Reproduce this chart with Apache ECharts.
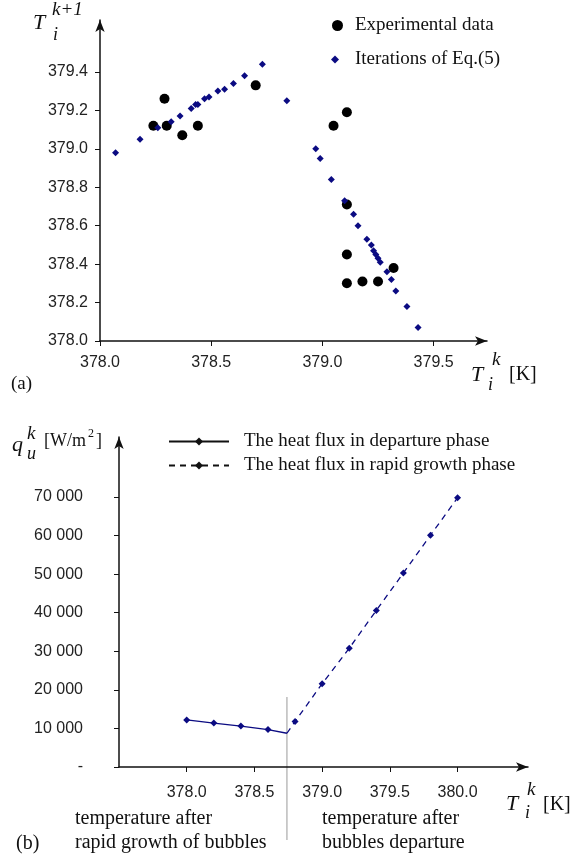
<!DOCTYPE html>
<html>
<head>
<meta charset="utf-8">
<script src="https://cdn.jsdelivr.net/npm/echarts@6/dist/echarts.min.js"></script>
<style>
  html, body { margin: 0; padding: 0; background: #fff; }
  #chart { width: 572px; height: 856px; }
</style>
</head>
<body>
<div id="chart"></div>
<script>
// (a) experimental data points
const expX = [378.24, 378.29, 378.30, 378.37, 378.44, 378.70, 379.05, 379.11, 379.11, 379.11, 379.11, 379.18, 379.25, 379.32]
const expY = [379.12, 379.26, 379.12, 379.07, 379.12, 379.33, 379.12, 379.19, 378.71, 378.45, 378.30, 378.31, 378.31, 378.38]

// (a) iterations of Eq.(5)
const iterX = [378.07, 378.18, 378.26, 378.32, 378.36, 378.41, 378.43, 378.44, 378.47, 378.49, 378.53, 378.56, 378.60, 378.65, 378.73, 378.84,
  378.97, 378.99, 379.04, 379.10, 379.14, 379.16, 379.20, 379.22, 379.23, 379.24, 379.25, 379.26, 379.29, 379.31, 379.33, 379.38, 379.43]
const iterY = [378.98, 379.05, 379.11, 379.14, 379.17, 379.21, 379.23, 379.23, 379.26, 379.27, 379.30, 379.31, 379.34, 379.38, 379.44, 379.25,
  379.00, 378.95, 378.84, 378.73, 378.66, 378.60, 378.53, 378.50, 378.47, 378.45, 378.43, 378.41, 378.36, 378.32, 378.26, 378.18, 378.07]

// (b) heat flux
const depX = [378.0, 378.2, 378.4, 378.6, 378.74]
const depY = [12200, 11400, 10600, 9700, 8750]
const growX = [378.74, 378.8, 379.0, 379.2, 379.4, 379.6, 379.8, 380.0]
const growY = [8750, 11800, 21600, 30800, 40600, 50300, 60100, 69800]
const splitT = 378.74

// tick labels
const aTicksX = [378.0, 378.5, 379.0, 379.5]
const aTicksY = [378.0, 378.2, 378.4, 378.6, 378.8, 379.0, 379.2, 379.4]
const bTicksX = [378.0, 378.5, 379.0, 379.5, 380.0]
const bTicksY = [0, 10000, 20000, 30000, 40000, 50000, 60000, 70000]

const navy = "#0b0b82"
const serif = "Liberation Serif"
const sans = "Liberation Sans"

const zip = (xs, ys) => xs.map((x, i) => [x, ys[i]])

const axisLine = {
  show: true,
  symbol: ["none", "arrow"],
  symbolSize: [7, 12],
  lineStyle: { color: "#111", width: 1.5 },
}
const lbl = { fontFamily: sans, fontSize: 16, color: "#222" }

function thousands(v) {
  if (v === 0) return "-"
  return String(v).replace(/\B(?=(\d{3})+(?!\d))/g, " ")
}

const chart = echarts.init(document.getElementById("chart"))

const option = {
  animation: false,
  backgroundColor: "#fff",
  grid: [
    { left: 100, top: 20, width: 387, height: 321 },
    { left: 119, top: 437, width: 409, height: 330 },
  ],
  xAxis: [
    {
      gridIndex: 0, type: "value", min: 378.0, max: 379.74,
      axisLine: axisLine,
      splitLine: { show: false },
      axisTick: { customValues: aTicksX, length: 5, lineStyle: { color: "#111" } },
      axisLabel: { customValues: aTicksX, margin: 14, formatter: (v) => v.toFixed(1), ...lbl },
    },
    {
      gridIndex: 1, type: "value", min: 377.5, max: 380.52,
      axisLine: axisLine,
      splitLine: { show: false },
      axisTick: { customValues: bTicksX, length: 5, lineStyle: { color: "#111" } },
      axisLabel: { customValues: bTicksX, margin: 18, formatter: (v) => v.toFixed(1), ...lbl },
    },
  ],
  yAxis: [
    {
      gridIndex: 0, type: "value", min: 378.0, max: 379.67,
      axisLine: axisLine,
      splitLine: { show: false },
      axisTick: { customValues: aTicksY, length: 5, lineStyle: { color: "#111" } },
      axisLabel: { customValues: aTicksY, margin: 12, formatter: (v) => v.toFixed(1), ...lbl },
    },
    {
      gridIndex: 1, type: "value", min: 0, max: 85560,
      axisLine: axisLine,
      splitLine: { show: false },
      axisTick: { customValues: bTicksY, length: 5, lineStyle: { color: "#111" } },
      axisLabel: { customValues: bTicksY, margin: 36, formatter: thousands, ...lbl },
    },
  ],
  legend: [
    {
      data: [{ name: "Experimental data", icon: "circle" }],
      left: 327, top: 11, itemWidth: 11, itemHeight: 11,
      textStyle: { fontFamily: serif, fontSize: 19, color: "#111", padding: [0, 0, 0, 7] },
    },
    {
      data: [{ name: "Iterations of Eq.(5)", icon: "diamond" }],
      left: 326, top: 45, itemWidth: 8, itemHeight: 8,
      textStyle: { fontFamily: serif, fontSize: 19, color: "#111", padding: [0, 0, 0, 11] },
    },
    {
      data: ["The heat flux in departure phase", "The heat flux in rapid growth phase"],
      orient: "vertical", left: 163, top: 427, itemWidth: 60, itemHeight: 10, itemGap: 5,
      itemStyle: { color: "#111" },
      lineStyle: { color: "#111" },
      textStyle: { fontFamily: serif, fontSize: 19, color: "#111", padding: [0, 0, 0, 10] },
    },
  ],
  series: [
    {
      name: "Experimental data", type: "scatter", xAxisIndex: 0, yAxisIndex: 0,
      symbol: "circle", symbolSize: 10, itemStyle: { color: "#000", opacity: 1 },
      data: zip(expX, expY),
    },
    {
      name: "Iterations of Eq.(5)", type: "scatter", xAxisIndex: 0, yAxisIndex: 0,
      symbol: "diamond", symbolSize: 7, itemStyle: { color: navy, opacity: 1 },
      data: zip(iterX, iterY),
    },
    {
      name: "The heat flux in departure phase", type: "line", xAxisIndex: 1, yAxisIndex: 1,
      symbol: "diamond", symbolSize: 7, showAllSymbol: true,
      itemStyle: { color: navy }, lineStyle: { color: navy, width: 1.3 },
      data: zip(depX, depY).map((p, i) => (i === depX.length - 1 ? { value: p, symbol: "none" } : p)),
    },
    {
      name: "The heat flux in rapid growth phase", type: "line", xAxisIndex: 1, yAxisIndex: 1,
      symbol: "diamond", symbolSize: 7, showAllSymbol: true,
      itemStyle: { color: navy }, lineStyle: { color: navy, width: 1.3, type: [6, 5] },
      data: zip(growX, growY).map((p, i) => (i === 0 ? { value: p, symbol: "none" } : p)),
    },
  ],
}

chart.setOption(option)

// axis titles and annotations
const t = (x, y, text, size, italic) => ({
  type: "text", x: x, y: y,
  style: { text: text, fontFamily: serif, fontSize: size, fontStyle: italic ? "italic" : "normal", fill: "#111" },
})

const splitPx = chart.convertToPixel({ xAxisIndex: 1 }, splitT)

chart.setOption({
  graphic: [
    // (a) y title T_i^{k+1}
    t(33, 12, "T", 22, true),
    t(52, 0, "k+1", 19, true),
    t(53, 26, "i", 18, true),
    // (a) x title T_i^k [K]
    t(471, 364, "T", 22, true),
    t(492, 350, "k", 19, true),
    t(488, 376, "i", 18, true),
    t(509, 365, "[K]", 20, false),
    t(11, 375, "(a)", 19, false),
    // (b) y title q_u^k [W/m2]
    t(12, 434, "q", 22, true),
    t(27, 424, "k", 19, true),
    t(27, 445, "u", 18, true),
    t(44, 432, "[W/m", 18, false),
    t(88, 428, "2", 12, false),
    t(96, 432, "]", 18, false),
    // (b) x title
    t(506, 793, "T", 22, true),
    t(527, 780, "k", 19, true),
    t(525, 804, "i", 18, true),
    t(543, 795, "[K]", 20, false),
    t(16, 834, "(b)", 20, false),
    t(75, 809, "temperature after", 20, false),
    t(75, 833, "rapid growth of bubbles", 20, false),
    t(322, 809, "temperature after", 20, false),
    t(322, 833, "bubbles departure", 20, false),
    {
      type: "line",
      shape: { x1: splitPx, y1: 697, x2: splitPx, y2: 840 },
      style: { stroke: "#aaa", lineWidth: 1.2 },
    },
  ],
})
</script>
</body>
</html>
